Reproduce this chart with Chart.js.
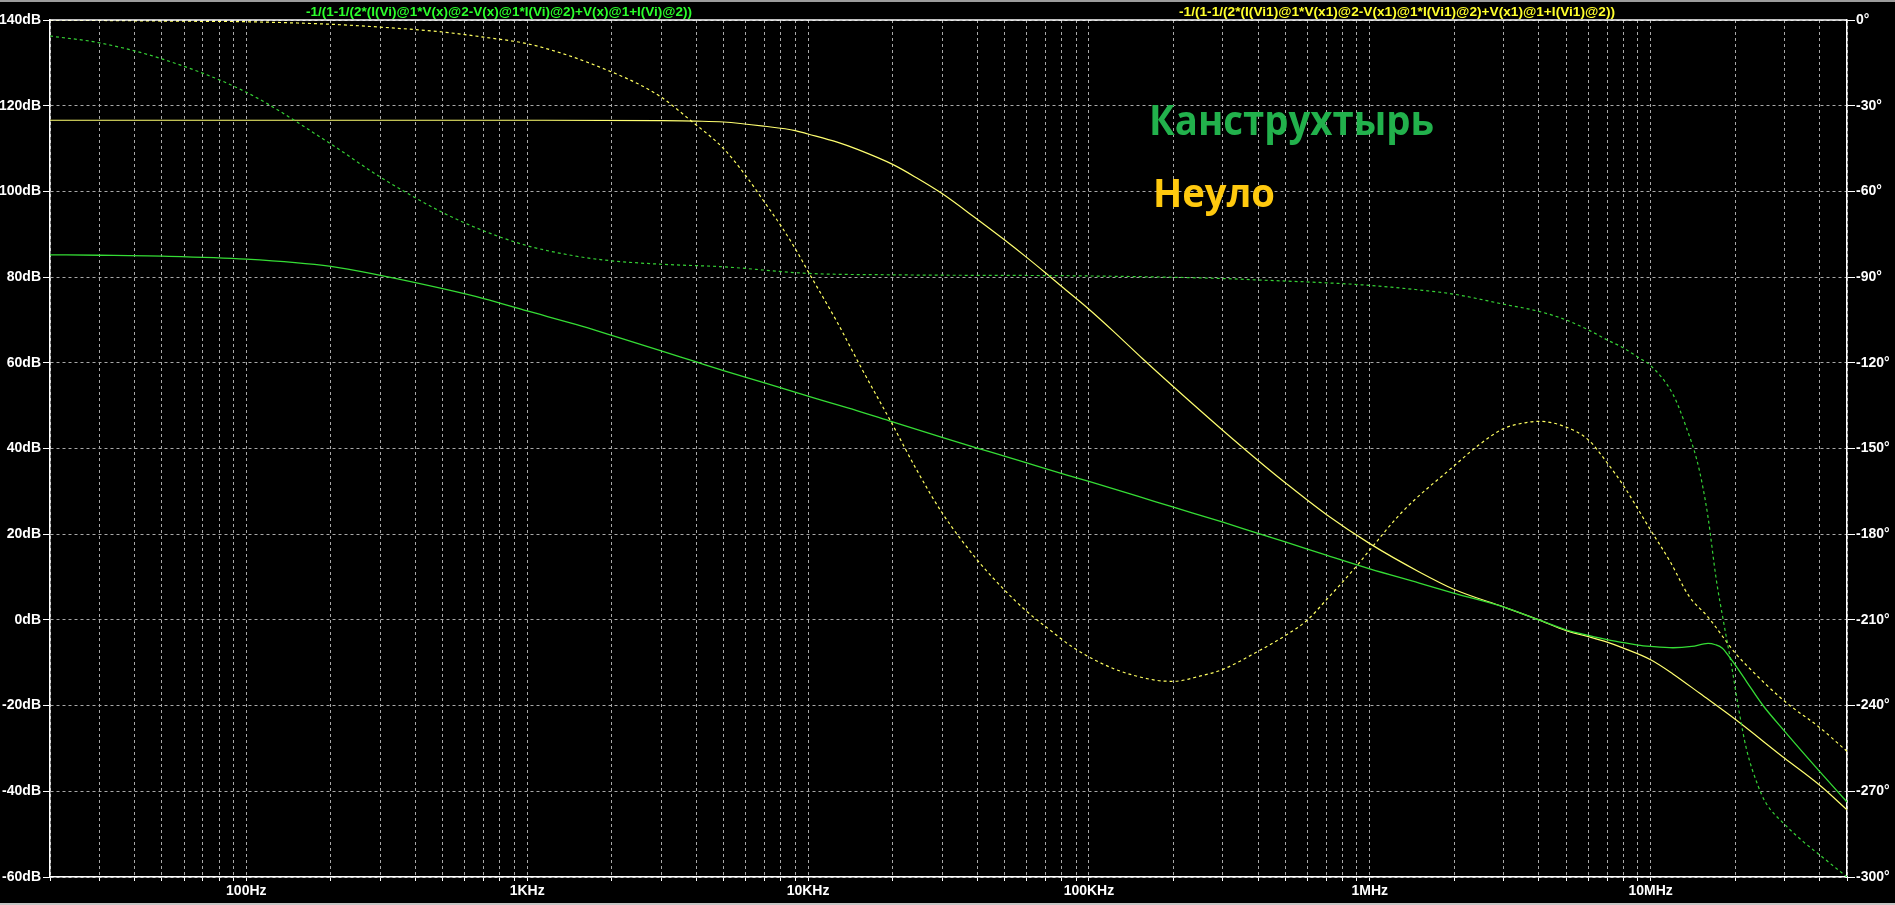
<!DOCTYPE html>
<html>
<head>
<meta charset="utf-8">
<script src="https://cdn.jsdelivr.net/npm/chart.js@4.4.1/dist/chart.umd.min.js"></script>
<style>
  html, body { margin: 0; padding: 0; background: #000; overflow: hidden; }
  #wrap { width: 1895px; height: 905px; }
</style>
</head>
<body>
<div id="wrap"><canvas id="bode" width="1895" height="905"></canvas></div>
<script>
// trace names, as the simulator prints them above the plot
const greenTitle = "-1/(1-1/(2*(I(Vi)@1*V(x)@2-V(x)@1*I(Vi)@2)+V(x)@1+I(Vi)@2))";
const yellowTitle = "-1/(1-1/(2*(I(Vi1)@1*V(x1)@2-V(x1)@1*I(Vi1)@2)+V(x1)@1+I(Vi1)@2))";
const noteGreen = "Канструхтырь";
const noteYellow = "Неуло";

// axis labels
const decadeValues = [100, 1e3, 1e4, 1e5, 1e6, 1e7];
const decadeLabels = ["100Hz", "1KHz", "10KHz", "100KHz", "1MHz", "10MHz"];

// green trace, magnitude (dB)
const greenMagFreq = [20, 30, 50, 100, 200, 300, 500, 700,
  1e3, 1.5e3, 2e3, 3e3, 4e3, 5e3, 7e3,
  1e4, 1.5e4, 2e4, 3e4, 4e4, 5e4, 7e4,
  1e5, 1.5e5, 2e5, 3e5, 4e5, 5e5, 7e5,
  1e6, 1.5e6, 2e6, 3e6, 4e6, 5e6, 6e6, 7e6, 8e6, 9e6,
  1e7, 1.2e7, 1.4e7, 1.6e7, 1.7e7, 1.8e7, 1.9e7, 2e7, 2.2e7, 2.5e7, 3e7, 4e7, 5e7];
const greenMagDb = [85.2, 85.1, 84.9, 84.2, 82.5, 80.4, 77.3, 75.0,
  72.1, 68.9, 66.4, 62.8, 60.2, 58.2, 55.3,
  52.2, 48.8, 46.2, 42.6, 40.1, 38.2, 35.3,
  32.3, 28.8, 26.3, 22.8, 20.2, 18.2, 15.1,
  11.9, 8.6, 6.2, 3.0, 0.0, -2.3, -3.6, -4.6, -5.3, -5.9,
  -6.2, -6.5, -6.2, -5.5, -5.8, -6.6, -8.5, -10.5, -14.5, -19.8, -26.0, -35.4, -42.5];

// green trace, phase (deg)
const greenPhFreq = [20, 30, 50, 100, 200, 300, 500, 700,
  1e3, 1.5e3, 2e3, 3e3, 5e3, 1e4, 2e4, 1e5, 3e5, 4e5, 7e5,
  1e6, 1.5e6, 2e6, 3e6, 4e6, 5e6, 6e6, 7e6, 8e6, 9e6,
  1e7, 1.2e7, 1.33e7, 1.46e7, 1.53e7, 1.6e7, 1.71e7, 1.82e7, 1.94e7,
  2.06e7, 2.19e7, 2.41e7, 2.57e7, 3e7, 3.5e7, 4e7, 5e7];
const greenPhDeg = [-5.6, -8.0, -13.6, -25.3, -43.4, -55.0, -67.4, -73.8,
  -79.0, -82.7, -84.3, -85.5, -86.4, -88.7, -89.2, -89.6, -90.5, -91.0, -92.0,
  -92.9, -94.5, -96.0, -99.5, -102.0, -105.0, -108.5, -112.0, -114.8, -118.0,
  -121.0, -131.0, -141.8, -154.0, -163.0, -174.0, -195.5, -211.0, -226.0,
  -241.5, -255.0, -268.0, -274.0, -281.6, -287.7, -292.3, -300.0];

// yellow trace, magnitude (dB)
const yellowMagFreq = [20, 1e3, 3e3, 4e3, 5e3, 7e3, 9e3,
  1e4, 1.27e4, 1.5e4, 2e4, 2.43e4, 3e4, 4e4, 5e4, 6e4, 7e4, 8e4,
  1e5, 1.22e5, 1.55e5, 2e5, 3e5, 4e5, 5e5, 7e5,
  1e6, 1.5e6, 2e6, 3e6, 4e6, 5e6, 6e6, 7e6, 8e6,
  1e7, 1.2e7, 1.5e7, 2e7, 3e7, 4e7, 5e7];
const yellowMagDb = [116.6, 116.6, 116.5, 116.4, 116.2, 115.2, 114.2,
  113.4, 111.5, 109.8, 106.3, 103.2, 99.5, 93.5, 88.7, 84.6, 81.0, 77.8,
  72.5, 67.4, 61.0, 54.4, 44.2, 37.2, 32.0, 24.6,
  17.8, 11.2, 7.1, 3.0, 0.0, -2.5, -3.9, -5.2, -6.6,
  -9.3, -12.6, -17.2, -23.2, -32.3, -38.6, -44.3];

// yellow trace, phase (deg)
const yellowPhFreq = [20, 55, 100, 200, 300, 500, 700,
  1e3, 1.4e3, 2e3, 2.5e3, 3e3, 3.8e3, 5e3, 6e3, 7e3, 8e3, 9e3,
  1e4, 1.27e4, 1.54e4, 2e4, 2.43e4, 3e4, 4e4, 5e4, 6e4, 7e4, 8.9e4,
  1.22e5, 1.7e5, 2e5, 2.5e5, 3e5, 4e5, 5e5, 6e5, 7e5, 9e5,
  1e6, 1.31e6, 2e6, 2.45e6, 3e6, 3.57e6, 4e6, 5e6, 6e6, 7e6, 8e6,
  1e7, 1.17e7, 1.37e7, 1.6e7, 2e7, 2.2e7, 3e7, 4e7, 5e7];
const yellowPhDeg = [0.0, -0.4, -0.6, -1.5, -2.5, -4.2, -6.0,
  -8.3, -12.4, -18.2, -22.5, -27.0, -35.0, -45.0, -54.5, -63.8, -72.0, -80.0,
  -88.0, -105.8, -121.4, -141.7, -157.3, -172.5, -189.0, -199.5, -207.0, -212.3, -220.0,
  -227.0, -231.0, -231.5, -229.6, -227.3, -221.0, -215.5, -210.0, -203.0, -191.0,
  -185.5, -172.0, -156.0, -148.7, -143.0, -141.0, -140.5, -142.5, -147.0, -155.0, -163.0,
  -178.6, -189.4, -201.7, -209.0, -221.6, -226.0, -238.5, -247.7, -256.0];

const pts = (xs, ys) => xs.map((x, i) => ({ x: x, y: ys[i] }));

// log grid at 1..9 x 10^n, like the simulator draws it
function logGrid(min, max) {
  const out = [];
  for (let e = 1; e <= 7; e++) {
    for (let m = 1; m <= 9; m++) {
      const v = Number((m * Math.pow(10, e)).toPrecision(6));
      if (v >= min && v <= max) out.push({ value: v });
    }
  }
  return out;
}

const tickFont = { family: "'Liberation Sans', Arial, sans-serif", size: 14, weight: "bold" };
const gridGray = "#a8a8a8";

function drawFitted(ctx, text, x0, x1, baseline, font, color) {
  ctx.save();
  ctx.font = font;
  ctx.fillStyle = color;
  ctx.textBaseline = "alphabetic";
  ctx.textAlign = "left";
  const w = ctx.measureText(text).width;
  ctx.translate(x0, baseline);
  ctx.scale((x1 - x0) / w, 1);
  ctx.fillText(text, 0, 0);
  ctx.restore();
}

const decor = {
  id: "decor",
  afterDraw(chart) {
    const ctx = chart.ctx;
    const a = chart.chartArea;
    ctx.save();
    // window edges
    ctx.fillStyle = "#9c9c9c";
    ctx.fillRect(0, 0, 1895, 2);
    ctx.fillStyle = "#c4c4c4";
    ctx.fillRect(0, 903, 1895, 2);
    // top frame line
    ctx.strokeStyle = "#ffffff";
    ctx.lineWidth = 1.5;
    ctx.beginPath();
    ctx.moveTo(a.left, a.top);
    ctx.lineTo(a.right, a.top);
    ctx.stroke();
    ctx.restore();

    drawFitted(ctx, greenTitle, 306, 692, 16, "bold 12px 'Liberation Sans', Arial", "#2cff2c");
    drawFitted(ctx, yellowTitle, 1179, 1615, 16, "bold 12px 'Liberation Sans', Arial", "#ffff2c");

    drawFitted(ctx, noteGreen, 1149, 1434, 135, "bold 42px 'Open Sans', sans-serif", "#22b14c");
    drawFitted(ctx, noteYellow, 1153, 1275, 207, "bold 40px 'Open Sans', sans-serif", "#ffc90e");
  }
};

const ctx = document.getElementById("bode").getContext("2d");
new Chart(ctx, {
  type: "line",
  data: {
    datasets: [
      {
        label: greenTitle + " dB",
        data: pts(greenMagFreq, greenMagDb),
        yAxisID: "y",
        borderColor: "#35dc35",
        borderWidth: 1.3
      },
      {
        label: greenTitle + " phase",
        data: pts(greenPhFreq, greenPhDeg),
        yAxisID: "y1",
        borderColor: "#35d035",
        borderWidth: 1.2,
        borderDash: [3, 3]
      },
      {
        label: yellowTitle + " dB",
        data: pts(yellowMagFreq, yellowMagDb),
        yAxisID: "y",
        borderColor: "#ffff70",
        borderWidth: 1.2
      },
      {
        label: yellowTitle + " phase",
        data: pts(yellowPhFreq, yellowPhDeg),
        yAxisID: "y1",
        borderColor: "#ffff60",
        borderWidth: 1.2,
        borderDash: [3, 3]
      }
    ]
  },
  options: {
    responsive: false,
    animation: false,
    layout: { padding: { top: 20, left: 0, right: 0, bottom: 0 } },
    elements: {
      point: { radius: 0 },
      line: { cubicInterpolationMode: "monotone", fill: false }
    },
    plugins: {
      legend: { display: false },
      tooltip: { enabled: false }
    },
    scales: {
      x: {
        type: "logarithmic",
        min: 20,
        max: 5e7,
        afterBuildTicks: (scale) => { scale.ticks = logGrid(20, 5e7); },
        afterFit: (scale) => { scale.height = 28; },
        border: { color: "#ffffff", width: 1.5, dash: [3, 3] },
        grid: { color: gridGray, lineWidth: 1, tickColor: "#ffffff", tickLength: 4 },
        ticks: {
          color: "#ffffff",
          font: tickFont,
          autoSkip: false,
          maxRotation: 0,
          padding: 2,
          callback: (v) => {
            const i = decadeValues.findIndex(d => Math.abs(d - v) / d < 1e-6);
            return i >= 0 ? decadeLabels[i] : "";
          }
        }
      },
      y: {
        position: "left",
        min: -60,
        max: 140,
        afterFit: (scale) => { scale.width = 50; },
        border: { color: "#ffffff", width: 1.5, dash: [3, 3] },
        grid: { color: gridGray, lineWidth: 1, tickColor: "#ffffff", tickLength: 7 },
        ticks: {
          stepSize: 20,
          color: "#ffffff",
          font: tickFont,
          padding: 2,
          callback: (v) => v + "dB"
        }
      },
      y1: {
        position: "right",
        min: -300,
        max: 0,
        afterFit: (scale) => { scale.width = 48; },
        border: { color: "#ffffff", width: 1.5 },
        grid: { drawOnChartArea: false, tickColor: "#ffffff", tickLength: 8 },
        ticks: {
          stepSize: 30,
          color: "#ffffff",
          font: tickFont,
          padding: 1,
          callback: (v) => v + "°"
        }
      }
    }
  },
  plugins: [decor]
});
</script>
</body>
</html>
